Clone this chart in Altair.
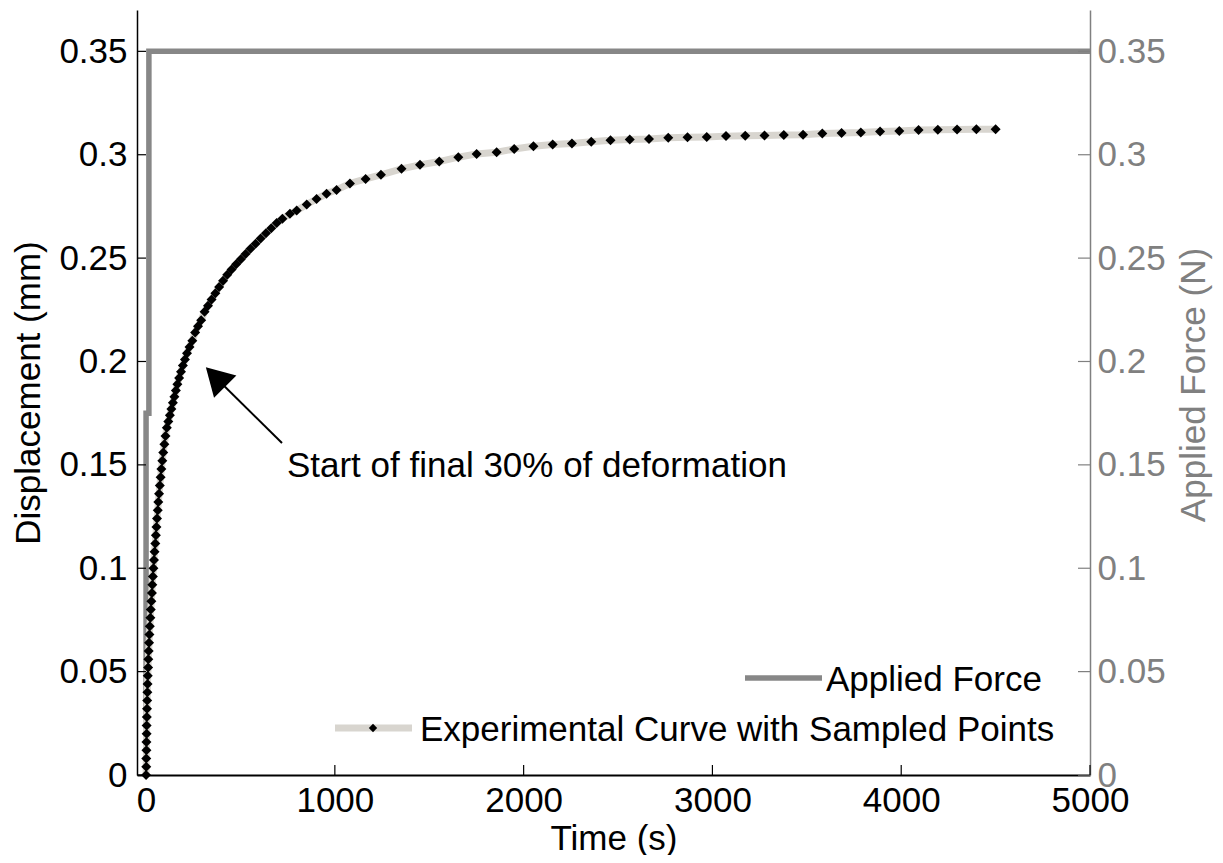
import altair as alt
import pandas as pd

# ---------------- data ----------------
time_s = [
    0, 1, 1, 2, 2, 3, 3, 4, 5, 6, 7, 8, 9, 11, 12, 14, 16, 18, 20, 23, 25, 28,
    31, 33, 36, 39, 42, 45, 49, 52, 55, 58, 62, 65, 69, 73, 77, 81, 86, 91, 97,
    103, 110,
    118, 126, 134, 142, 150, 158, 166, 175, 185, 195, 206, 217, 230, 245, 260,
    275, 292, 310, 328, 347, 367, 387, 408, 430, 453, 477, 502, 527, 553, 580,
    607, 635, 663, 692, 722,
    762, 798, 851, 903, 956, 1009, 1080, 1163, 1244, 1353, 1451, 1553, 1654,
    1751, 1857,
    1950, 2052, 2154, 2256, 2358, 2460, 2562, 2664, 2766, 2868, 2970, 3072,
    3174, 3276, 3378, 3480, 3582, 3684, 3786, 3888, 3990, 4092, 4194, 4296,
    4398, 4500,
]
displacement_mm = [
    0.000, 0.004, 0.008, 0.012, 0.016, 0.020, 0.024, 0.028, 0.032, 0.036,
    0.040, 0.044, 0.048, 0.052, 0.056, 0.060, 0.064, 0.068, 0.072, 0.076,
    0.080, 0.084, 0.088, 0.092, 0.096, 0.100, 0.104, 0.108, 0.112, 0.116,
    0.120, 0.124, 0.128, 0.132, 0.136, 0.140, 0.144, 0.148, 0.152, 0.156,
    0.160, 0.164, 0.168,
    0.171, 0.174, 0.177, 0.180, 0.183, 0.186, 0.189, 0.192, 0.195, 0.198,
    0.201, 0.204, 0.207, 0.210, 0.214, 0.217, 0.220, 0.224, 0.227, 0.230,
    0.233, 0.236, 0.239, 0.242, 0.2445, 0.247, 0.2495, 0.252, 0.2545, 0.257,
    0.2595, 0.262, 0.2645, 0.267, 0.269,
    0.2714, 0.273, 0.2759, 0.2786, 0.2811, 0.2830, 0.2861, 0.2883, 0.2903,
    0.2932, 0.2951, 0.2967, 0.2988, 0.3004, 0.3012,
    0.3028, 0.3041, 0.3050, 0.3054, 0.3063, 0.3070, 0.3074, 0.3076, 0.3082,
    0.3084, 0.3086, 0.3090, 0.3092, 0.3093, 0.3095, 0.3097, 0.3103, 0.3105,
    0.3107, 0.3112, 0.3115, 0.3120, 0.3121, 0.3122, 0.3123, 0.3123,
]
force_time_s = [0, 0, 15, 15, 5000]
force_n = [0, 0.175, 0.175, 0.35, 0.35]

y_tick_values = [0, 0.05, 0.1, 0.15, 0.2, 0.25, 0.3, 0.35]
x_tick_values = [0, 1000, 2000, 3000, 4000, 5000]

legend_labels = ["Applied Force", "Experimental Curve with Sampled Points"]
annotation_text = "Start of final 30% of deformation"

# annotation anchor points (data space)
arrow = {"t": 720, "v": 0.1606, "t2": 371, "v2": 0.192}
arrow_head = {"t": 368, "v": 0.1925}
note_pos = {"t": 746, "v": 0.1495}

# ---------------- styling ----------------
W, H = 953, 765
FONT = "Liberation Sans"
FS = 35
FORCE_GRAY = "#878787"
AXIS_GRAY = "#808080"
BAND = "#d8d5cf"

x_scale = alt.Scale(domain=[-48, 5000], nice=False, zero=False)
y_scale = alt.Scale(domain=[0, 0.37], nice=False, zero=False)

x_axis = alt.Axis(
    orient="bottom", title="Time (s)", values=x_tick_values, format="d",
    ticks=False, grid=False, domainColor="black", domainWidth=2,
    labelFontSize=FS, labelFont=FONT, labelColor="black", labelPadding=8,
    labelFlush=False, labelOverlap=False,
    titleFontSize=FS, titleFont=FONT, titleFontWeight="normal", titleColor="black",
    titleY=63, titleBaseline="middle",
)
left_axis = alt.Axis(
    orient="left", title="Displacement (mm)", values=y_tick_values, format="~g",
    ticks=False, grid=False, domainColor="black", domainWidth=1.5,
    labelFontSize=FS, labelFont=FONT, labelColor="black", labelPadding=10,
    labelFlush=False, labelOverlap=False,
    titleFontSize=FS, titleFont=FONT, titleFontWeight="normal", titleColor="black",
    titleAngle=270, titleX=-109, titleY=H / 2, titleBaseline="middle",
)
right_axis = alt.Axis(
    orient="right", title="Applied Force (N)", values=y_tick_values, format="~g",
    ticks=False, grid=False, domainColor=AXIS_GRAY, domainWidth=1.5,
    labelFontSize=FS, labelFont=FONT, labelColor=AXIS_GRAY, labelPadding=7,
    labelFlush=False, labelOverlap=False,
    titleFontSize=FS, titleFont=FONT, titleFontWeight="normal", titleColor=AXIS_GRAY,
    titleAngle=270, titleX=103, titleY=H / 2 - 8, titleBaseline="middle",
)

exp_df = pd.DataFrame({"t": time_s, "d": displacement_mm, "i": range(len(time_s))})
force_df = pd.DataFrame({"t": force_time_s, "f": force_n, "i": range(len(force_n))})
ytick_df = pd.DataFrame({"v": y_tick_values})
xtick_df = pd.DataFrame({"v": x_tick_values})


def xq(field):
    # every layer carries the identical x axis so the shared axis merges cleanly
    return alt.X(field, scale=x_scale, axis=x_axis)


def yq(field, axis=None):
    return alt.Y(field, scale=y_scale, axis=axis)


# force (right axis)
force_line = alt.Chart(force_df).mark_line(
    color=FORCE_GRAY, strokeWidth=5.5, strokeJoin="miter"
).encode(x=xq("t:Q"), y=yq("f:Q", right_axis), order=alt.Order("i:Q"))

# experimental curve (left axis)
band = alt.Chart(exp_df).mark_line(color=BAND, strokeWidth=7).encode(
    x=xq("t:Q"), y=yq("d:Q", left_axis), order=alt.Order("i:Q")
)
markers = alt.Chart(exp_df).mark_point(
    shape="diamond", filled=True, color="black", size=100, opacity=1
).encode(x=xq("t:Q"), y=yq("d:Q"))

# inward ticks
left_ticks = alt.Chart(ytick_df).mark_rule(color="black", strokeWidth=1.2).encode(
    y=yq("v:Q"), x=alt.value(0), x2=alt.value(9)
)
right_ticks = alt.Chart(ytick_df).mark_rule(color=AXIS_GRAY, strokeWidth=1.2).encode(
    y=yq("v:Q"), x=alt.value(W), x2=alt.value(W - 12)
)
bottom_ticks = alt.Chart(xtick_df).mark_rule(color="black", strokeWidth=1.2).encode(
    x=xq("v:Q"), y=alt.value(H), y2=alt.value(H - 10)
)

# annotation arrow and text
arrow_line = alt.Chart(pd.DataFrame([arrow])).mark_rule(color="black", strokeWidth=2).encode(
    x=xq("t:Q"), y=yq("v:Q"), x2="t2:Q", y2="v2:Q"
)
arrow_tip = alt.Chart(pd.DataFrame([arrow_head])).mark_point(
    shape="triangle-up", filled=True, color="black", size=1000, angle=315, opacity=1
).encode(x=xq("t:Q"), y=yq("v:Q"))
note = alt.Chart(pd.DataFrame([{**note_pos, "label": annotation_text}])).mark_text(
    align="left", baseline="middle", font=FONT, fontSize=FS, color="black"
).encode(x=xq("t:Q"), y=yq("v:Q"), text="label:N")

# legend (bottom right, inside the plot)
leg_force_df = pd.DataFrame({"label": [legend_labels[0]]})
leg_exp_df = pd.DataFrame({"label": [legend_labels[1]]})
leg_force_sym = alt.Chart(leg_force_df).mark_rule(color=FORCE_GRAY, strokeWidth=5.5).encode(
    x=alt.value(608), x2=alt.value(685), y=alt.value(668)
)
leg_force_txt = alt.Chart(leg_force_df).mark_text(
    align="left", baseline="middle", font=FONT, fontSize=FS, color="black"
).encode(x=alt.value(689), y=alt.value(670), text="label:N")
leg_exp_sym = alt.Chart(leg_exp_df).mark_rule(color=BAND, strokeWidth=7).encode(
    x=alt.value(198), x2=alt.value(275), y=alt.value(718)
)
leg_exp_dot = alt.Chart(leg_exp_df).mark_point(
    shape="diamond", filled=True, color="black", size=70, opacity=1
).encode(x=alt.value(236), y=alt.value(718))
leg_exp_txt = alt.Chart(leg_exp_df).mark_text(
    align="left", baseline="middle", font=FONT, fontSize=FS, color="black"
).encode(x=alt.value(283), y=alt.value(720), text="label:N")

chart = alt.layer(
    force_line, band, markers, left_ticks, right_ticks, bottom_ticks,
    arrow_line, arrow_tip, note,
    leg_force_sym, leg_force_txt, leg_exp_sym, leg_exp_dot, leg_exp_txt,
).resolve_scale(y="independent").properties(
    width=W, height=H,
    autosize=alt.AutoSizeParams(type="none"),
    padding={"left": 129, "top": 2, "right": 124, "bottom": 80},
    background="white",
).configure_view(stroke=None)

chart.save("out.html", embed_options={"renderer": "svg", "actions": False})
